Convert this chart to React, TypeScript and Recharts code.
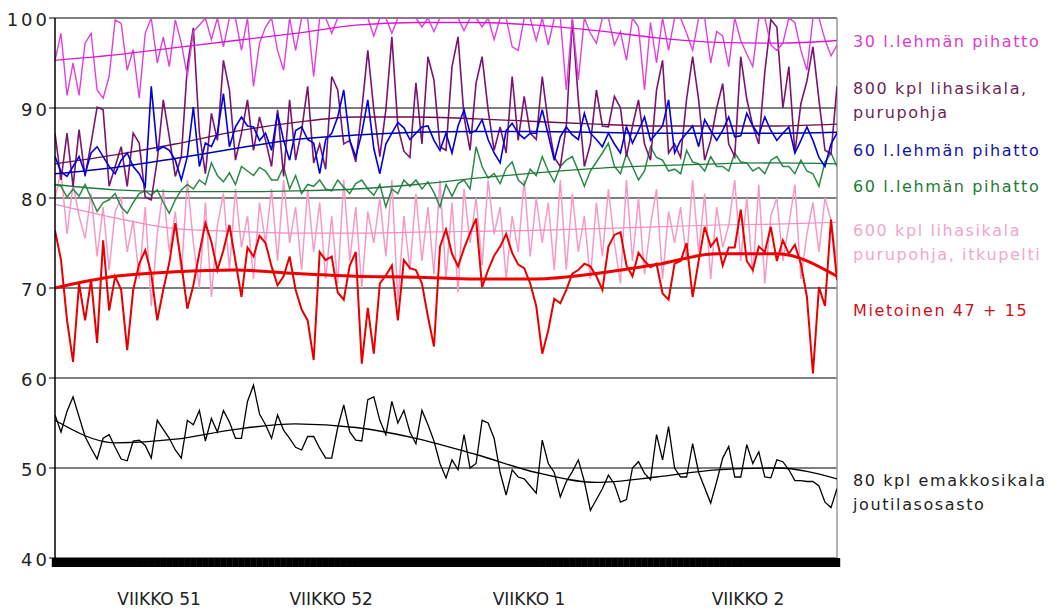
import React from 'react';
import { ComposedChart, Line, XAxis, YAxis, CartesianGrid, ReferenceLine } from 'recharts';

// Hourly-ish readings (relative humidity, %) over four weeks, one value per sample step
const MAGENTA_30 = [95.3,98.3,91.4,95.0,91.4,97.2,98.3,92.0,91.1,93.5, 99.8,99.4,94.2,96.5,91.1,98.3,100,95.0,97.9,94.6, 99.8,97.2,93.5,98.5,99.2,100,97.6,100,96.8,100, 100,96.4,100,92.4,97.2,99.0,100,96.4,94.2,100, 96.4,100,100,93.5,100,100,98.3,100,100,100, 100,100,100,98.0,100,100,98.3,100,100,100, 100,99.0,100,98.5,100,100,100,100,98.6,100, 100,99.0,100,97.6,100,100,96.8,96.4,100,100, 97.5,100,97.0,100,100,92.0,100,93.1,100,98.3, 97.2,100,100,97.0,98.5,95.3,100,99.0,92.0,99.5, 95.0,100,96.4,100,100,98.3,96.4,100,100,95.0, 98.5,98.0,94.6,100,97.5,96.0,94.6,100,100,97.0, 96.4,97.2,100,99.5,96.4,94.2,100,100,97.6,95.8, 97.0];
const PURPLE_800 = [87.2,82.0,87.2,81.3,87.6,82.4,86.1,90.1,89.8,81.3, 83.5,85.7,81.3,87.2,86.1,80.1,79.8,84.2,90.9,86.8, 82.4,84.6,94.6,98.9,87.2,82.7,89.4,86.4,95.3,92.0, 84.2,87.2,90.9,85.3,89.0,86.4,83.5,89.8,82.4,90.9, 84.2,87.5,92.4,83.9,86.0,83.2,93.5,92.0,86.0,86.4, 84.0,89.8,96.4,89.8,84.6,89.8,97.9,87.9,85.2,84.5, 92.8,86.0,95.7,93.1,85.7,85.3,94.6,97.9,89.0,85.3, 92.8,95.7,89.8,85.3,87.9,85.0,93.5,86.4,91.3,87.2, 86.5,93.5,88.3,84.5,83.5,88.0,99.8,90.9,83.5,86.0, 92.0,88.0,87.9,91.3,90.0,84.6,88.0,90.9,86.0,84.2, 92.0,95.3,85.0,86.0,84.5,91.0,95.7,90.9,84.2,86.4, 90.0,92.7,86.0,84.6,95.7,91.0,88.0,86.0,94.0,99.8, 99.0,90.0,94.6,85.0,90.5,93.0,96.8,90.9,85.3,84.9, 92.4];
const BLUE_60 = [84.6,82.9,82.4,83.5,84.6,82.7,85.0,85.7,84.6,83.5, 82.7,84.2,85.0,83.5,82.7,81.3,92.4,85.3,85.7,85.3, 84.2,82.0,84.6,90.1,83.5,86.1,85.7,87.2,91.6,85.7, 87.9,89.0,88.0,87.9,86.4,87.2,85.3,89.4,86.4,84.2, 87.5,87.9,86.5,86.1,82.7,86.5,87.2,89.0,92.0,86.4, 84.6,87.2,90.9,85.5,82.7,86.0,87.2,88.4,87.8,86.5, 87.2,87.9,88.0,86.4,85.3,87.2,85.0,88.0,89.8,87.2, 87.5,88.7,86.5,85.0,83.9,87.5,88.3,87.2,86.6,87.2, 87.2,89.8,87.0,84.2,86.8,87.9,87.0,86.5,89.4,87.2, 86.5,85.7,87.2,86.0,85.0,87.9,86.1,87.5,89.0,86.4, 87.2,88.0,90.9,85.0,86.4,87.2,88.0,85.7,88.7,87.5, 86.4,87.5,89.0,86.8,86.9,89.4,88.0,87.0,89.0,87.5, 86.4,87.2,87.9,85.0,86.4,87.9,86.4,84.5,83.5,86.0, 87.2];
const GREEN_60 = [81.5,81.3,80.1,81.0,80.2,81.5,80.0,78.5,79.5,79.8, 80.5,79.0,78.3,79.5,80.5,80.8,80.3,80.9,79.5,78.3, 79.8,80.9,81.5,81.0,82.0,81.5,83.9,82.5,81.8,82.8, 81.5,83.5,83.0,82.5,83.4,83.0,82.0,82.0,83.5,81.0, 82.5,80.5,81.5,81.3,82.0,81.0,80.8,82.0,81.2,80.5, 81.6,82.0,81.0,80.3,81.5,79.0,81.0,80.5,82.0,81.3, 82.0,81.0,81.8,80.6,79.0,81.5,80.2,81.6,82.0,81.0, 85.7,83.5,82.2,82.7,81.6,83.3,84.0,82.0,81.4,83.2, 82.5,84.6,83.0,81.8,83.5,84.2,84.6,83.0,81.3,83.0, 84.0,85.0,86.1,83.5,82.7,84.9,83.5,82.0,83.0,85.7, 84.5,84.2,83.0,83.2,82.7,85.3,84.0,83.8,83.0,84.6, 83.5,83.5,83.0,85.0,84.0,83.9,83.0,83.4,82.7,84.2, 84.6,83.5,83.5,82.7,84.2,83.0,82.7,81.3,84.0,85.0, 83.5];
const PINK_600 = [80.0,83.0,76.0,81.5,78.0,75.5,80.5,73.5,79.0,72.0, 78.5,80.0,74.0,77.5,71.0,79.0,68.0,76.0,81.0,74.0, 78.5,71.5,82.0,75.0,70.0,79.5,69.0,77.0,80.5,72.0, 81.0,74.5,78.0,71.0,79.5,75.0,81.0,73.0,82.0,75.0, 79.0,72.0,81.0,74.0,79.5,71.0,78.0,70.5,82.0,73.0, 79.0,70.0,78.5,75.0,80.0,73.5,82.0,68.5,78.0,72.0, 80.5,73.0,79.0,71.5,82.0,71.0,79.5,69.5,81.0,75.0, 80.0,72.5,82.0,76.0,79.0,71.0,78.0,74.0,82.0,73.5, 80.0,75.0,79.5,72.0,82.0,72.0,80.5,74.0,78.0,71.0, 79.5,73.5,81.0,75.0,70.5,82.0,73.0,80.0,71.5,77.0, 81.0,71.0,78.5,75.0,79.0,73.0,82.0,74.0,80.5,71.0, 79.0,74.5,77.0,82.0,73.0,80.0,71.5,81.5,70.5,78.0, 80.0,73.0,77.0,81.5,71.0,76.0,79.5,74.0,80.0,77.5, 72.5];
const RED_MIETOINEN = [76.4,73.1,66.4,61.8,70.5,66.4,70.9,63.9,75.3,67.5, 71.3,69.8,63.1,69.8,72.7,74.2,71.6,66.4,69.8,72.8, 77.2,72.7,67.7,70.3,73.9,77.2,75.1,72.0,74.2,77.0, 73.0,69.0,74.5,73.5,75.8,75.0,72.4,70.3,71.3,73.5, 69.8,67.6,66.4,62.0,74.0,73.1,73.5,69.5,68.7,72.5, 74.0,61.6,67.8,62.7,70.5,71.4,72.5,66.4,73.1,72.2, 72.0,70.5,66.8,63.5,74.6,76.5,73.8,72.4,74.4,76.1, 77.7,70.1,72.0,73.6,74.6,76.0,73.9,72.6,72.2,70.5, 68.0,62.7,65.3,68.8,68.3,69.8,71.6,72.0,72.7,72.4, 71.3,69.8,74.6,75.9,76.2,72.5,71.3,73.9,73.0,72.3, 72.7,69.4,68.7,72.7,73.0,75.0,69.0,73.0,76.8,74.6, 75.5,72.5,74.5,74.5,78.7,73.0,72.0,74.6,74.0,76.8, 73.0,75.3,73.8,74.8,72.7,69.0,60.5,70.1,68.0,77.6, 70.9];
const BLACK_80 = [55.9,54.0,56.3,57.9,55.7,53.5,52.2,51.0,53.3,53.7, 52.3,51.0,50.8,53.0,53.1,52.5,51.1,55.3,54.3,53.3, 52.0,51.1,55.3,54.8,56.4,53.0,55.5,54.0,56.4,55.1, 53.3,53.3,57.4,59.2,56.0,54.8,53.3,55.9,54.2,53.3, 52.3,52.0,53.5,53.5,52.2,51.1,51.1,54.5,57.0,54.0, 53.1,53.0,57.6,57.9,55.3,53.7,57.4,55.0,56.4,54.0, 52.7,56.4,54.8,53.0,50.5,48.9,50.9,49.8,53.7,50.0, 50.5,55.3,55.0,53.3,49.5,47.0,49.8,49.0,48.8,48.0, 47.2,53.1,50.5,49.5,46.8,48.5,49.6,50.9,48.5,45.3, 46.5,47.7,49.2,48.2,46.2,46.5,50.0,50.7,49.4,48.7, 53.7,50.9,54.6,50.0,49.0,49.0,52.7,49.5,47.8,46.1, 48.5,51.1,52.4,49.0,49.0,52.6,50.5,51.8,49.0,48.9, 50.9,50.7,49.8,48.6,48.6,48.5,48.5,48.0,46.2,45.6, 47.7];

// Smoothed trend of each series, sampled every tenth step
const TREND_T = [0, 10, 20, 30, 40, 50, 60, 70, 80, 90, 100, 110, 120, 130];
const MAGENTA_TREND = [95.3,95.9,96.7,97.5,98.3,99.2,99.5,99.5,99.2,98.6,97.8,97.3,97.2,97.5];
const PURPLE_TREND = [83.8,84.8,86.0,87.4,88.4,89.0,89.0,88.8,88.5,88.2,88.0,88.0,88.0,88.2];
const BLUE_TREND = [82.7,83.4,84.4,85.5,86.5,87.0,87.3,87.4,87.4,87.3,87.2,87.2,87.2,87.3];
const GREEN_TREND = [81.5,80.9,80.7,80.7,80.8,81.0,81.5,82.2,82.8,83.3,83.6,83.8,83.9,83.8];
const PINK_TREND = [79.3,77.8,76.6,76.3,76.1,76.1,76.2,76.3,76.4,76.6,76.8,77.0,77.1,77.3];
const RED_TREND = [70.0,71.3,71.8,72.0,71.6,71.3,71.2,71.0,71.0,71.6,72.6,73.8,73.8,71.3];
const BLACK_TREND = [55.3,52.8,53.2,54.3,54.9,54.5,53.3,51.5,49.5,48.4,49.0,49.8,50.0,48.8];

const Y_TICKS = [40, 50, 60, 70, 80, 90, 100];
const WEEK_LABELS = ['VIIKKO 51', 'VIIKKO 52', 'VIIKKO 1', 'VIIKKO 2'];
const WEEK_AT = [17.3, 45.9, 78.8, 115.2];

const SERIES_LABELS: { lines: string[]; color: string }[] = [
  { lines: ['30 l.lehmän pihatto'], color: '#dc3ccc' },
  { lines: ['800 kpl lihasikala,', 'purupohja'], color: '#6e1f55' },
  { lines: ['60 l.lehmän pihatto'], color: '#1414a0' },
  { lines: ['60 l.lehmän pihatto'], color: '#1f7a35' },
  { lines: ['600 kpl lihasikala', 'purupohja, itkupelti'], color: '#f2a6cc' },
  { lines: ['Mietoinen 47 + 15'], color: '#d0101e' },
  { lines: ['80 kpl emakkosikala', 'joutilasosasto'], color: '#222222' },
];
const LABEL_BASELINES = [[47], [94, 118], [156], [192], [236, 260], [316], [486, 510]];

const rows = MAGENTA_30.map((_, i) => ({
  t: i,
  mag: MAGENTA_30[i],
  pur: PURPLE_800[i],
  blu: BLUE_60[i],
  grn: GREEN_60[i],
  pnk: PINK_600[i],
  red: RED_MIETOINEN[i],
  blk: BLACK_80[i],
}));

const trendRows = TREND_T.map((t, k) => ({
  t,
  magT: MAGENTA_TREND[k],
  purT: PURPLE_TREND[k],
  bluT: BLUE_TREND[k],
  grnT: GREEN_TREND[k],
  pnkT: PINK_TREND[k],
  redT: RED_TREND[k],
  blkT: BLACK_TREND[k],
}));

const LAST = rows.length - 1;
const X_TICKS = [...rows.map((r) => r.t), ...WEEK_AT];

const FONT = '"DejaVu Sans", Verdana, sans-serif';

const XTick = (props: any) => {
  const { x, y, payload } = props;
  const k = WEEK_AT.indexOf(payload.value);
  if (k >= 0) {
    return (
      <text x={x} y={y + 47} textAnchor="middle" fontFamily={FONT} fontSize={17} fill="#222">
        {WEEK_LABELS[k]}
      </text>
    );
  }
  return <rect x={x - 3.2} y={y} width={6.4} height={9} fill="#000" />;
};

const YTick = (props: any) => {
  const { x, y, payload } = props;
  return (
    <text x={x + 3} y={y + 7.5} textAnchor="end" fontFamily={FONT} fontSize={18} letterSpacing={3} fill="#222">
      {payload.value}
    </text>
  );
};

export default function App() {
  return (
    <div style={{ position: 'absolute', left: 0, top: 0, width: 1062, height: 610, background: '#fff' }}>
      <ComposedChart
        width={1062}
        height={610}
        data={rows}
        margin={{ top: 18, right: 225, bottom: 0, left: 0 }}
      >
        <CartesianGrid vertical={false} stroke="#000" strokeWidth={1.2} />
        <XAxis
          dataKey="t"
          type="number"
          domain={[0, LAST]}
          ticks={X_TICKS}
          interval={0}
          tick={<XTick />}
          tickLine={false}
          axisLine={false}
          tickSize={0}
          tickMargin={0}
          height={52}
          allowDataOverflow
        />
        <YAxis
          domain={[40, 100]}
          ticks={Y_TICKS}
          interval={0}
          width={55}
          tick={<YTick />}
          tickSize={6}
          tickLine={{ stroke: '#000' }}
          axisLine={{ stroke: '#000', strokeWidth: 1.5 }}
          allowDataOverflow
        />
        <ReferenceLine x={LAST} stroke="#9a9a9a" strokeWidth={1.5} />

        <Line dataKey="pnk" stroke="#f59ac6" strokeWidth={1.5} dot={false} isAnimationActive={false} />
        <Line data={trendRows} dataKey="pnkT" type="monotone" stroke="#f28cc0" strokeWidth={1.2} dot={false} isAnimationActive={false} />

        <Line dataKey="grn" stroke="#2a8a4a" strokeWidth={1.5} dot={false} isAnimationActive={false} />
        <Line data={trendRows} dataKey="grnT" type="monotone" stroke="#1f7a3a" strokeWidth={1.3} dot={false} isAnimationActive={false} />

        <Line dataKey="pur" stroke="#7a1470" strokeWidth={1.6} dot={false} isAnimationActive={false} />
        <Line data={trendRows} dataKey="purT" type="monotone" stroke="#6a0f50" strokeWidth={1.3} dot={false} isAnimationActive={false} />

        <Line dataKey="blu" stroke="#0000dd" strokeWidth={1.6} dot={false} isAnimationActive={false} />
        <Line data={trendRows} dataKey="bluT" type="monotone" stroke="#0000b0" strokeWidth={1.5} dot={false} isAnimationActive={false} />

        <Line dataKey="mag" stroke="#e040e0" strokeWidth={1.4} dot={false} isAnimationActive={false} />
        <Line data={trendRows} dataKey="magT" type="monotone" stroke="#d818d0" strokeWidth={1.3} dot={false} isAnimationActive={false} />

        <Line dataKey="red" stroke="#e60000" strokeWidth={2} dot={false} isAnimationActive={false} />
        <Line data={trendRows} dataKey="redT" type="monotone" stroke="#ee0000" strokeWidth={3} dot={false} isAnimationActive={false} />

        <Line dataKey="blk" stroke="#000" strokeWidth={1.3} dot={false} isAnimationActive={false} />
        <Line data={trendRows} dataKey="blkT" type="monotone" stroke="#000" strokeWidth={1.3} dot={false} isAnimationActive={false} />
      </ComposedChart>

      <svg width={1062} height={610} style={{ position: 'absolute', left: 0, top: 0, pointerEvents: 'none' }}>
        {SERIES_LABELS.map((s, i) =>
          s.lines.map((line, j) => (
            <text
              key={`${i}-${j}`}
              x={853}
              y={LABEL_BASELINES[i][j]}
              fontFamily={FONT}
              fontSize={16}
              letterSpacing={1.6}
              fill={s.color}
            >
              {line}
            </text>
          ))
        )}
      </svg>
    </div>
  );
}
